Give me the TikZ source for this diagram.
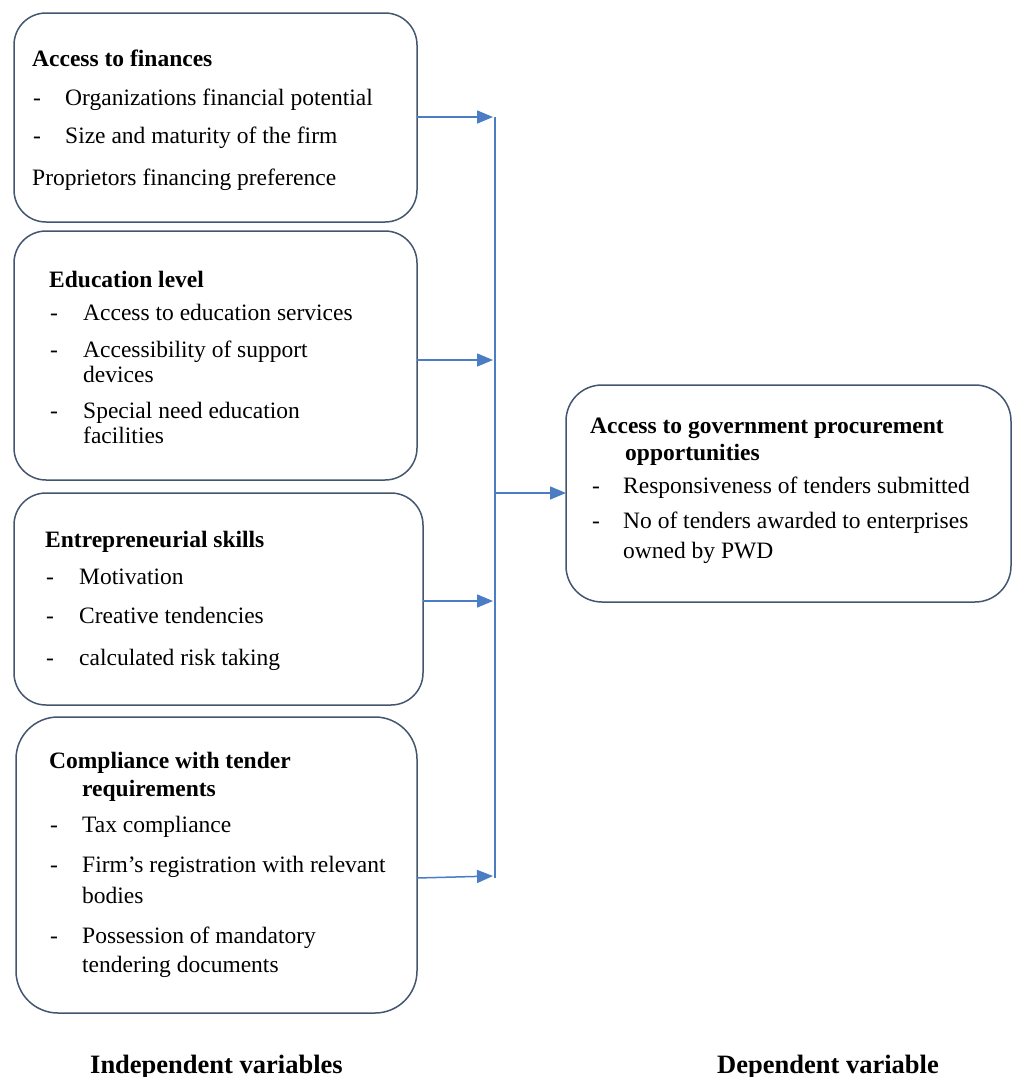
\documentclass[tikz,border=0pt]{standalone}
\usepackage{fontspec}
\setmainfont{Liberation Serif}
\usetikzlibrary{arrows.meta}
\definecolor{boxc}{HTML}{44566E}
\definecolor{arrc}{HTML}{4A7DC4}
\begin{document}
\begin{tikzpicture}[x=1pt,y=-1pt,
  box/.style={draw=boxc, line width=1.5pt, rounded corners=32pt, inner sep=0pt, outer sep=0pt},
  txt/.style={anchor=base west, inner sep=0pt, font=\fontsize{23.5}{28}\selectfont},
  hd/.style={anchor=base west, inner sep=0pt, font=\fontsize{23.5}{28}\selectfont\bfseries},
  lbl/.style={anchor=base west, inner sep=0pt, font=\fontsize{26.5}{30}\selectfont\bfseries},
  arr/.style={draw=arrc, line width=1.5pt, -{Triangle[length=16pt,width=13pt]}},
  busline/.style={draw=arrc, line width=1.5pt}]
\useasboundingbox (0,0) rectangle (1012,1077);
\fill[white] (0,0) rectangle (1012,1077);

% boxes
\node[box, minimum width=403pt, minimum height=209pt] (b1) at (215.5,117.5) {};
\node[box, minimum width=403pt, minimum height=249pt] (b2) at (215.5,355.5) {};
\node[box, minimum width=409pt, minimum height=212pt] (b3) at (218.5,599) {};
\node[box, rounded corners=42pt, minimum width=401pt, minimum height=296pt] (b4) at (216.5,865) {};
\node[box, rounded corners=36pt, minimum width=445pt, minimum height=217pt] (dv) at (788.5,493.5) {};

% box 1
\node[hd] (t1a) at (32,66) {Access to finances};
\node[txt] (d1b) at (33,105) {-};
\node[txt] (t1b) at (65,105) {Organizations financial potential};
\node[txt] (d1c) at (33,143) {-};
\node[txt] (t1c) at (65,143) {Size and maturity of the firm};
\node[txt] (t1d) at (32,185) {Proprietors financing preference};

% box 2
\node[hd] (t2a) at (49,287) {Education level};
\node[txt] (d2b) at (50,320) {-};
\node[txt] (t2b) at (83,320) {Access to education services};
\node[txt] (d2c) at (50,357) {-};
\node[txt] (t2c) at (83,357) {Accessibility of support};
\node[txt] (t2d) at (83,382) {devices};
\node[txt] (d2e) at (50,418) {-};
\node[txt] (t2e) at (83,418) {Special need education};
\node[txt] (t2f) at (83,443) {facilities};

% box 3
\node[hd] (t3a) at (45,547) {Entrepreneurial skills};
\node[txt] (d3b) at (46,584) {-};
\node[txt] (t3b) at (79,584) {Motivation};
\node[txt] (d3c) at (46,623) {-};
\node[txt] (t3c) at (79,623) {Creative tendencies};
\node[txt] (d3d) at (46,665) {-};
\node[txt] (t3d) at (79,665) {calculated risk taking};

% box 4
\node[hd] (t4a) at (49,768) {Compliance with tender};
\node[hd] (t4b) at (82,796) {requirements};
\node[txt] (d4c) at (50,832) {-};
\node[txt] (t4c) at (82,832) {Tax compliance};
\node[txt] (d4d) at (50,872) {-};
\node[txt] (t4d) at (82,872) {Firm’s registration with relevant};
\node[txt] (t4e) at (82,903) {bodies};
\node[txt] (d4f) at (50,943) {-};
\node[txt] (t4f) at (82,943) {Possession of mandatory};
\node[txt] (t4g) at (82,972) {tendering documents};

% dependent box
\node[hd] (t5a) at (590,433) {Access to government procurement};
\node[hd] (t5b) at (625,460) {opportunities};
\node[txt] (d5c) at (592,493) {-};
\node[txt] (t5c) at (623,493) {Responsiveness of tenders submitted};
\node[txt] (d5d) at (592,528) {-};
\node[txt] (t5d) at (623,528) {No of tenders awarded to enterprises};
\node[txt] (t5e) at (623,558) {owned by PWD};

% bottom labels
\node[lbl] (iv) at (90,1073) {Independent variables};
\node[lbl] (dvl) at (717,1073) {Dependent variable};

% connectors
\coordinate (bt) at (495,117);
\coordinate (bb) at (495,878);
\coordinate (bm) at (495,493);
\coordinate (e1) at (493,117);
\coordinate (e2) at (493,360);
\coordinate (e3) at (493,601);
\coordinate (e4) at (493,876);
\draw[busline] (bt) -- (bb);
\draw[arr] (b1.east |- e1) -- (e1);
\draw[arr] (b2.east |- e2) -- (e2);
\draw[arr] (b3.east |- e3) -- (e3);
\draw[arr] ([yshift=-13pt]b4.east) -- (e4);
\draw[arr] (bm) -- (dv.west |- bm);
\end{tikzpicture}
\end{document}
